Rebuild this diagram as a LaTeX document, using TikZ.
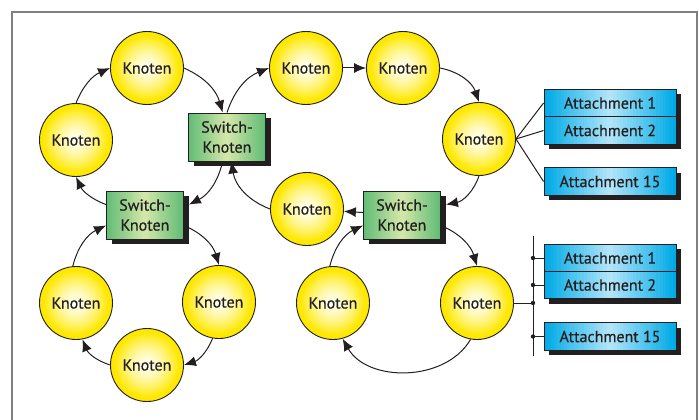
\documentclass[tikz,border=0pt]{standalone}
\usepackage{fontspec}
\setmainfont{PT Sans}[FakeBold=0.5]
\usetikzlibrary{arrows.meta,shadows,calc}
\tikzset{>={Latex[length=12pt,width=10pt]}}

\definecolor{ink}{RGB}{35,31,32}
\definecolor{rahmengrau}{RGB}{128,128,128}
\definecolor{knotgelb}{RGB}{255,232,0}
\definecolor{knothell}{RGB}{255,255,240}
\definecolor{switchgruen}{RGB}{98,188,118}
\definecolor{switchhell}{RGB}{212,232,170}
\definecolor{attachblau}{RGB}{0,170,230}
\definecolor{attachhell}{RGB}{180,230,250}

\tikzset{
  % waagrechter Verlauf: Rand #1, Mitte #2
  querverlauf/.style 2 args={path picture={
    \foreach \i in {0,...,39}{
      \pgfmathsetmacro\anteil{100*abs(\i-19.5)/19.5}
      \fill[#1!\anteil!#2]
        ($(path picture bounding box.south west)!{\i/40}!(path picture bounding box.south east)$)
        rectangle
        ($(path picture bounding box.north west)!{(\i+1.4)/40}!(path picture bounding box.north east)$);
    }}},
  % runder Verlauf: Rand #1, Mitte #2
  kugelverlauf/.style 2 args={path picture={
    \foreach \i in {0,...,24}{
      \pgfmathsetmacro\anteil{100*min(1,(1-\i/25)/0.9)^1.5}
      \fill[#1!\anteil!#2] (path picture bounding box.center) circle ({37*(1-\i/25)});
    }}},
  knoten/.style={circle, draw=ink, line width=0.9pt, minimum size=73pt,
    inner sep=0pt, fill=knotgelb, kugelverlauf={knotgelb}{knothell},
    text=ink, font=\fontsize{16}{19}\selectfont},
  schatten/.style={drop shadow={shadow xshift=5pt, shadow yshift=-5pt,
    opacity=1, fill=ink}},
  switchbox/.style={rectangle, draw=ink, line width=0.9pt, minimum width=77pt,
    minimum height=48pt, inner sep=0pt, align=center, schatten,
    fill=switchgruen, querverlauf={switchgruen}{switchhell},
    text=ink, font=\fontsize{16}{20}\selectfont},
  attachbox/.style={rectangle, draw=ink, line width=0.9pt, minimum width=132pt,
    minimum height=27.5pt, inner sep=0pt, schatten,
    fill=attachblau, querverlauf={attachblau}{attachhell},
    text=ink, font=\fontsize{16}{19}\selectfont},
  pfeil/.style={->, line width=1pt, draw=ink},
  leitung/.style={line width=1pt, draw=ink},
  rahmen/.style={line width=1.5pt, draw=rahmengrau}
}

\begin{document}
\begin{tikzpicture}[x=1pt, y=1pt]
  \useasboundingbox (0,0) rectangle (699,-420);
  % Rahmen, unten offen
  \draw[rahmen] (12,-420) |- (697,-12) -- (697,-420);

  % Knoten und Switch-Knoten
  \node[knoten] (c1) at (147,-68) {Knoten};
  \node[knoten] (c2) at (76,-140) {Knoten};
  \node[switchbox] (s1) at (227,-137) {Switch-\\Knoten};
  \node[knoten] (c3) at (306,-68) {Knoten};
  \node[knoten] (c4) at (403,-68) {Knoten};
  \node[knoten] (c5) at (479,-139) {Knoten};
  \node[switchbox] (s2) at (145,-215) {Switch-\\Knoten};
  \node[knoten] (c6) at (307,-209) {Knoten};
  \node[switchbox] (s3) at (402,-215) {Switch-\\Knoten};
  \node[knoten] (c7) at (76,-303) {Knoten};
  \node[knoten] (c8) at (219,-302) {Knoten};
  \node[knoten] (c9) at (147,-365) {Knoten};
  \node[knoten] (c10) at (333,-303) {Knoten};
  \node[knoten] (c11) at (477,-303) {Knoten};

  % Attachments oben
  \node[attachbox] (a1) at (610,-103) {Attachment 1};
  \node[attachbox] (a2) at (610,-130.5) {Attachment 2};
  \node[attachbox] (a15) at (610,-181.5) {Attachment 15};

  % Attachments unten
  \node[attachbox] (b1) at (610,-258) {Attachment 1};
  \node[attachbox] (b2) at (610,-285) {Attachment 2};
  \node[attachbox] (b15) at (610,-336.5) {Attachment 15};

  % Ring oben links
  \draw[pfeil] (c2.north) to[bend left=22] (c1.west);
  \draw[pfeil] (c1.east) to[bend left=25] (s1.100);
  \draw[pfeil] (s1.-100) to[bend left=25] ([xshift=5pt]s2.15);
  \draw[pfeil] (s2.165) to[bend left=22] (c2.south);

  % Ring oben rechts
  \draw[pfeil] (s1.north) to[bend left=25] (c3.west);
  \draw[pfeil] (c3) -- (c4);
  \draw[pfeil] (c4.east) to[bend left=30] (c5.north);
  \draw[pfeil] (c5.south) to[bend left=30] ([xshift=5pt]s3.15);
  \draw[pfeil] (s3) -- (c6);
  \draw[pfeil] (c6.west) to[bend left=30] (s1.-80);

  % Ring unten links
  \draw[pfeil] (s2.-15) to[bend left=25] (c8.north);
  \draw[pfeil] (c8.-100) to[bend left=25] (c9.east);
  \draw[pfeil] (c9.west) to[bend left=25] (c7.-80);
  \draw[pfeil] (c7.95) to[bend left=25] (s2.-165);

  % Ring unten rechts
  \draw[pfeil] (s3.-15) to[bend left=25] (c11.north);
  \draw[pfeil] (c11.-100) to[bend left=60] (c10.-75);
  \draw[pfeil] (c10.95) to[bend left=25] (s3.-165);

  % Sternverbindung zu den Attachments
  \draw[leitung] (c5.east) -- (a1.west);
  \draw[leitung] (c5.east) -- (a2.west);
  \draw[leitung] (c5.east) -- (a15.west);

  % Busverbindung zu den Attachments
  \coordinate (bus top) at (533,-236);
  \coordinate (bus bottom) at (533,-356);
  \draw[leitung] (bus top) -- (bus bottom);
  \draw[leitung] (c11.east) -- (c11.east -| bus top);
  \foreach \b in {b1,b2,b15}
    \draw[leitung] (\b.west -| bus top) -- (\b.west);
  \foreach \b in {b1,b2,c11,b15}
    \fill[ink] (\b.east -| bus top) circle (2.2pt);
\end{tikzpicture}
\end{document}
